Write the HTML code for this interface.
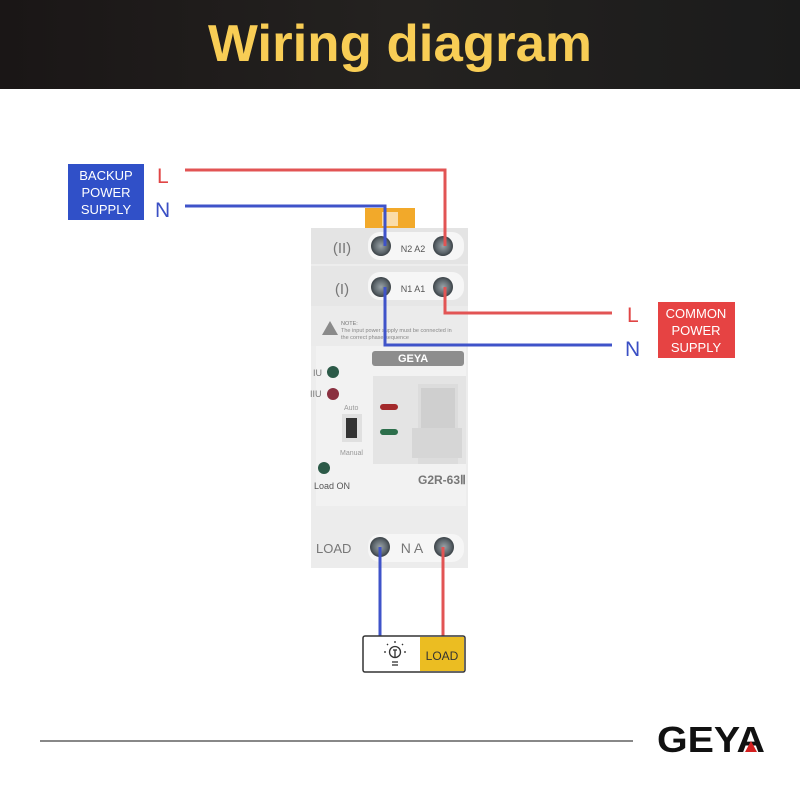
<!DOCTYPE html>
<html><head><meta charset="utf-8"><style>
html,body{margin:0;padding:0;background:#fff}
svg{display:block}
text{font-family:"Liberation Sans",sans-serif}
</style></head><body>
<svg width="800" height="800" viewBox="0 0 800 800" xmlns="http://www.w3.org/2000/svg">
<defs>
<linearGradient id="hd" x1="0" x2="1"><stop offset="0" stop-color="#1a1616"/><stop offset="0.5" stop-color="#242220"/><stop offset="1" stop-color="#1b1b1b"/></linearGradient>
<radialGradient id="sc"><stop offset="0" stop-color="#9aa3a8"/><stop offset="0.7" stop-color="#5c656b"/><stop offset="1" stop-color="#3a4146"/></radialGradient>
</defs>
<rect x="0" y="0" width="800" height="89" fill="url(#hd)"/>
<text x="400" y="61" text-anchor="middle" font-size="52" font-weight="bold" fill="#f8cd55" textLength="384" lengthAdjust="spacingAndGlyphs">Wiring diagram</text>

<!-- device -->
<rect x="365" y="208" width="50" height="22" fill="#f2a92a"/>
<rect x="382" y="212" width="16" height="14" fill="#fff" opacity="0.6"/>
<rect x="311" y="228" width="157" height="340" fill="#ededed"/>
<rect x="311" y="228" width="157" height="36" fill="#e4e4e4"/>
<rect x="311" y="266" width="157" height="40" fill="#e6e6e6"/>
<rect x="311" y="306" width="157" height="40" fill="#ebebeb"/>
<rect x="316" y="346" width="150" height="160" fill="#f2f2f2"/>
<rect x="311" y="510" width="157" height="58" fill="#ececec"/>
<rect x="368" y="232" width="96" height="28" rx="12" fill="#f6f6f6"/>
<rect x="368" y="272" width="96" height="28" rx="12" fill="#f6f6f6"/>
<rect x="368" y="534" width="96" height="28" rx="12" fill="#f6f6f6"/>
<text x="342" y="253" text-anchor="middle" font-size="15" fill="#777" font-family="Liberation Serif">(II)</text>
<text x="342" y="294" text-anchor="middle" font-size="15" fill="#777" font-family="Liberation Serif">(I)</text>
<text x="413" y="252" text-anchor="middle" font-size="9" fill="#555">N2 A2</text>
<text x="413" y="292" text-anchor="middle" font-size="9" fill="#555">N1 A1</text>
<g fill="url(#sc)"><circle cx="381" cy="246" r="10"/><circle cx="443" cy="246" r="10"/><circle cx="381" cy="287" r="10"/><circle cx="443" cy="287" r="10"/><circle cx="380" cy="547" r="10"/><circle cx="444" cy="547" r="10"/></g>
<polygon points="322,335 330,321 338,335" fill="#8a8a8a"/>
<text x="341" y="325" font-size="5.5" fill="#777">NOTE:</text>
<text x="341" y="332" font-size="5.5" fill="#888">The input power supply must be connected in</text>
<text x="341" y="339" font-size="5.5" fill="#888">the correct phase sequence</text>
<rect x="372" y="351" width="92" height="15" rx="3" fill="#8d8d8d"/>
<text x="398" y="362" font-size="11" font-weight="bold" fill="#fff">GEYA</text>
<rect x="373" y="376" width="93" height="88" fill="#e4e4e4"/>
<rect x="418" y="384" width="40" height="80" fill="#dcdcdc"/>
<rect x="421" y="388" width="34" height="40" fill="#cfcfcf"/>
<rect x="412" y="428" width="50" height="30" fill="#d6d6d6"/>
<rect x="380" y="404" width="18" height="6" rx="3" fill="#a3292b"/>
<rect x="380" y="429" width="18" height="6" rx="3" fill="#2c6e4b"/>
<text x="313" y="376" font-size="9" fill="#777">IU</text>
<circle cx="333" cy="372" r="6" fill="#2c5a48"/>
<text x="310" y="397" font-size="9" fill="#777">IIU</text>
<circle cx="333" cy="394" r="6" fill="#8a3040"/>
<text x="344" y="410" font-size="7" fill="#999">Auto</text>
<rect x="342" y="414" width="20" height="28" fill="#e0e0e0"/>
<rect x="346" y="418" width="11" height="20" fill="#333"/>
<text x="340" y="455" font-size="7" fill="#999">Manual</text>
<circle cx="324" cy="468" r="6" fill="#2c5a48"/>
<text x="314" y="489" font-size="9" fill="#555">Load ON</text>
<text x="418" y="484" font-size="12" font-weight="bold" fill="#777">G2R-63Ⅱ</text>
<text x="316" y="553" font-size="13" fill="#777">LOAD</text>
<text x="412" y="553" text-anchor="middle" font-size="14" fill="#777">N A</text>

<!-- wires -->
<g fill="none" stroke-width="3">
<polyline points="185,170 445,170 445,246" stroke="#e25454"/>
<polyline points="185,206 385,206 385,246" stroke="#3f53c9"/>
<polyline points="445,287 445,313 612,313" stroke="#e25454"/>
<polyline points="385,287 385,345 612,345" stroke="#3f53c9"/>
<polyline points="380,547 380,637" stroke="#3f53c9"/>
<polyline points="443,547 443,637" stroke="#e25454"/>
</g>

<rect x="68" y="164" width="76" height="56" fill="#3050c8"/>
<text x="106" y="180" text-anchor="middle" font-size="13" fill="#fff">BACKUP</text>
<text x="106" y="197" text-anchor="middle" font-size="13" fill="#fff">POWER</text>
<text x="106" y="214" text-anchor="middle" font-size="13" fill="#fff">SUPPLY</text>
<text x="157" y="183" font-size="21" fill="#e04545">L</text>
<text x="155" y="217" font-size="21" fill="#3a4fc4">N</text>

<rect x="658" y="302" width="77" height="56" fill="#e64343"/>
<text x="696" y="318" text-anchor="middle" font-size="13" fill="#fff">COMMON</text>
<text x="696" y="335" text-anchor="middle" font-size="13" fill="#fff">POWER</text>
<text x="696" y="352" text-anchor="middle" font-size="13" fill="#fff">SUPPLY</text>
<text x="627" y="322" font-size="21" fill="#e04545">L</text>
<text x="625" y="356" font-size="21" fill="#3a4fc4">N</text>

<rect x="363" y="636" width="102" height="36" rx="2" fill="#fff" stroke="#333" stroke-width="1.5"/>
<rect x="420" y="637" width="44" height="34" fill="#ebbd22"/>
<text x="442" y="660" text-anchor="middle" font-size="12" fill="#333">LOAD</text>
<g stroke="#333" stroke-width="1.3" fill="none">
<circle cx="395" cy="652" r="5.5"/><line x1="392" y1="662" x2="398" y2="662"/><line x1="392" y1="665" x2="398" y2="665"/>
<line x1="393" y1="650" x2="397" y2="650"/><line x1="395" y1="650" x2="395" y2="658"/>
<line x1="395" y1="641" x2="395" y2="643"/><line x1="386" y1="652" x2="384" y2="652"/><line x1="404" y1="652" x2="406" y2="652"/>
<line x1="388" y1="645" x2="387" y2="644"/><line x1="402" y1="645" x2="403" y2="644"/>
</g>

<line x1="40" y1="741" x2="633" y2="741" stroke="#888" stroke-width="2"/>
<text x="657" y="752" font-size="36" font-weight="bold" fill="#111" textLength="108" lengthAdjust="spacingAndGlyphs">GEYA</text>
<polygon points="745,752 751,741 757,752" fill="#d42020"/>
</svg>
</body></html>
